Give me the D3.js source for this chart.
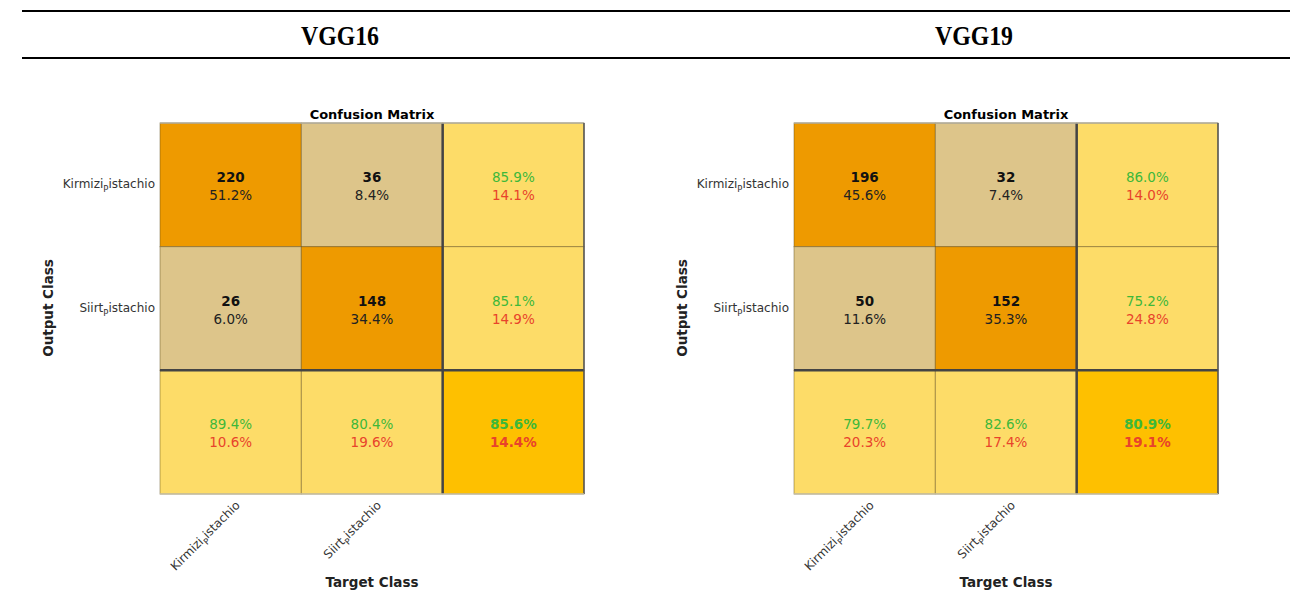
<!DOCTYPE html>
<html>
<head>
<meta charset="utf-8">
<script src="https://cdn.jsdelivr.net/npm/d3@7"></script>
<style>
  body { margin: 0; background: #fff; }
  svg { display: block; }
</style>
</head>
<body>
<div id="chart"></div>
<script>
// data
var classes = ["Kirmizi", "Siirt"];  // each label is "<name>_Pistachio"
var models = ["VGG16", "VGG19"];

var vgg16Counts = [[220, 36], [26, 148]];
var vgg16Pct = [[51.2, 8.4], [6.0, 34.4]];
var vgg16RowAcc = [85.9, 85.1];
var vgg16RowErr = [14.1, 14.9];
var vgg16ColAcc = [89.4, 80.4];
var vgg16ColErr = [10.6, 19.6];
var vgg16Total = [85.6, 14.4];

var vgg19Counts = [[196, 32], [50, 152]];
var vgg19Pct = [[45.6, 7.4], [11.6, 35.3]];
var vgg19RowAcc = [86.0, 75.2];
var vgg19RowErr = [14.0, 24.8];
var vgg19ColAcc = [79.7, 82.6];
var vgg19ColErr = [20.3, 17.4];
var vgg19Total = [80.9, 19.1];

var W = 1303, H = 601;
var svg = d3.select("#chart").append("svg")
  .attr("width", W).attr("height", H);

// table header
svg.append("line").attr("x1", 22).attr("x2", 1290).attr("y1", 11).attr("y2", 11)
  .attr("stroke", "#000").attr("stroke-width", 2);
svg.append("line").attr("x1", 22).attr("x2", 1290).attr("y1", 58).attr("y2", 58)
  .attr("stroke", "#000").attr("stroke-width", 2);

var font = "'DejaVu Sans', Verdana, sans-serif";
var green = "#3db83a", red = "#e8432b";
var cDiag = "#ee9a00", cOff = "#ddc58a", cMargin = "#fddc68", cCorner = "#fec000";

function fmt(v) { return v.toFixed(1) + "%"; }

function drawMatrix(left, title, counts, pct, rowAcc, rowErr, colAcc, colErr, total) {
  var x = d3.scaleBand().domain([0, 1, 2]).range([left, left + 424]);
  var y = d3.scaleBand().domain([0, 1, 2]).range([123, 494]);
  var g = svg.append("g");

  // build cells
  var cells = [];
  for (var r = 0; r < 3; r++) {
    for (var c = 0; c < 3; c++) {
      var cell = {r: r, c: c};
      if (r < 2 && c < 2) {
        cell.fill = r == c ? cDiag : cOff;
        cell.top = counts[r][c]; cell.bot = fmt(pct[r][c]);
        cell.topColor = "#111"; cell.botColor = "#222"; cell.topBold = true;
      } else if (r < 2) {
        cell.fill = cMargin; cell.top = fmt(rowAcc[r]); cell.bot = fmt(rowErr[r]);
        cell.topColor = green; cell.botColor = red;
      } else if (c < 2) {
        cell.fill = cMargin; cell.top = fmt(colAcc[c]); cell.bot = fmt(colErr[c]);
        cell.topColor = green; cell.botColor = red;
      } else {
        cell.fill = cCorner; cell.top = fmt(total[0]); cell.bot = fmt(total[1]);
        cell.topColor = green; cell.botColor = red; cell.topBold = true; cell.botBold = true;
      }
      cells.push(cell);
    }
  }

  g.selectAll("rect.cell").data(cells).enter().append("rect")
    .attr("class", "cell")
    .attr("x", function(d) { return x(d.c); })
    .attr("y", function(d) { return y(d.r); })
    .attr("width", x.bandwidth())
    .attr("height", y.bandwidth())
    .attr("fill", function(d) { return d.fill; })
    .attr("stroke", "rgba(90,70,20,0.45)")
    .attr("stroke-width", 1);

  g.selectAll("text.top").data(cells).enter().append("text")
    .attr("x", function(d) { return x(d.c) + x.bandwidth() / 2; })
    .attr("y", function(d) { return y(d.r) + y.bandwidth() / 2 - 8; })
    .attr("text-anchor", "middle").attr("dominant-baseline", "central")
    .style("font-family", font).style("font-size", "13.5px")
    .style("font-weight", function(d) { return d.topBold ? "bold" : "normal"; })
    .attr("fill", function(d) { return d.topColor; })
    .text(function(d) { return d.top; });

  g.selectAll("text.bot").data(cells).enter().append("text")
    .attr("x", function(d) { return x(d.c) + x.bandwidth() / 2; })
    .attr("y", function(d) { return y(d.r) + y.bandwidth() / 2 + 10; })
    .attr("text-anchor", "middle").attr("dominant-baseline", "central")
    .style("font-family", font).style("font-size", "13.5px")
    .style("font-weight", function(d) { return d.botBold ? "bold" : "normal"; })
    .attr("fill", function(d) { return d.botColor; })
    .text(function(d) { return d.bot; });

  // thick separators for the summary row / column
  g.append("line").attr("x1", x(2)).attr("x2", x(2)).attr("y1", y(0)).attr("y2", y(2) + y.bandwidth())
    .attr("stroke", "#444").attr("stroke-width", 2.5);
  g.append("line").attr("x1", x(0)).attr("x2", x(2) + x.bandwidth()).attr("y1", y(2)).attr("y2", y(2))
    .attr("stroke", "#444").attr("stroke-width", 2.5);
  // outer frame
  g.append("line").attr("x1", x(0)).attr("x2", x(2) + x.bandwidth()).attr("y1", y(0)).attr("y2", y(0))
    .attr("stroke", "#b5b0a0").attr("stroke-width", 1.5);
  g.append("line").attr("x1", x(2) + x.bandwidth()).attr("x2", x(2) + x.bandwidth())
    .attr("y1", y(0)).attr("y2", y(2) + y.bandwidth())
    .attr("stroke", "#555").attr("stroke-width", 1.5);
  g.append("line").attr("x1", x(0)).attr("x2", x(2) + x.bandwidth())
    .attr("y1", y(2) + y.bandwidth()).attr("y2", y(2) + y.bandwidth())
    .attr("stroke", "#c9c2a8").attr("stroke-width", 1.5);

  var cx = left + 212;
  // titles
  g.append("text").attr("x", cx).attr("y", 119).attr("text-anchor", "middle")
    .style("font-family", font).style("font-size", "13px").style("font-weight", "bold")
    .text("Confusion Matrix");
  g.append("text").attr("x", cx).attr("y", 587).attr("text-anchor", "middle")
    .style("font-family", font).style("font-size", "13.5px").style("font-weight", "bold")
    .attr("fill", "#222").text("Target Class");
  g.append("text")
    .attr("transform", "translate(" + (left - 107) + "," + 308 + ") rotate(-90)")
    .attr("text-anchor", "middle")
    .style("font-family", font).style("font-size", "13.5px").style("font-weight", "bold")
    .attr("fill", "#222").text("Output Class");

  // row labels
  classes.forEach(function(name, i) {
    var t = g.append("text")
      .attr("x", left - 5).attr("y", y(i) + y.bandwidth() / 2 + 3)
      .attr("text-anchor", "end")
      .style("font-family", font).style("font-size", "12px").attr("fill", "#333");
    t.append("tspan").text(name);
    t.append("tspan").attr("dy", 4).style("font-size", "8.5px").text("P");
    t.append("tspan").attr("dy", -4).text("istachio");
  });

  // column labels, rotated
  classes.forEach(function(name, i) {
    var t = g.append("text")
      .attr("transform", "translate(" + (x(i) + x.bandwidth() / 2 + 10) + "," + 506 + ") rotate(-45)")
      .attr("text-anchor", "end")
      .style("font-family", font).style("font-size", "12px").attr("fill", "#333");
    t.append("tspan").text(name);
    t.append("tspan").attr("dy", 4).style("font-size", "8.5px").text("P");
    t.append("tspan").attr("dy", -4).text("istachio");
  });

  svg.append("text")
    .attr("transform", "translate(" + (cx - 32) + ",45) scale(0.85,1)")
    .attr("text-anchor", "middle")
    .style("font-family", "'Liberation Serif', 'Times New Roman', serif")
    .style("font-size", "28px").style("font-weight", "bold")
    .text(title);
}

drawMatrix(160, models[0], vgg16Counts, vgg16Pct, vgg16RowAcc, vgg16RowErr, vgg16ColAcc, vgg16ColErr, vgg16Total);
drawMatrix(794, models[1], vgg19Counts, vgg19Pct, vgg19RowAcc, vgg19RowErr, vgg19ColAcc, vgg19ColErr, vgg19Total);
</script>
</body>
</html>
